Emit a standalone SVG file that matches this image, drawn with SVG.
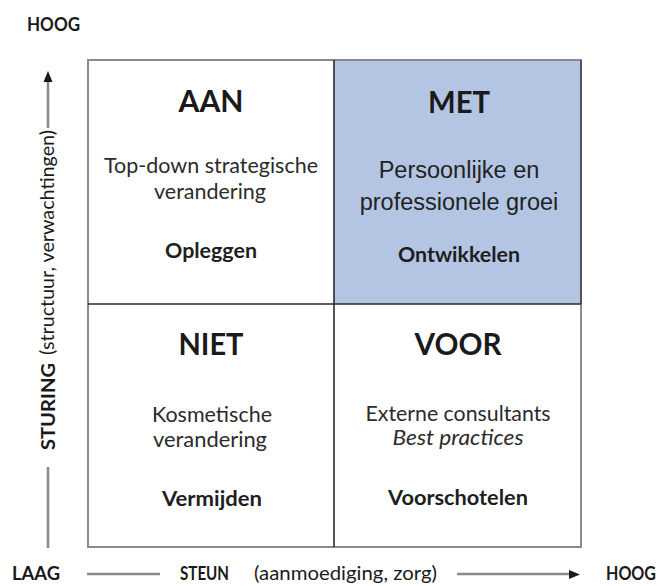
<svg xmlns="http://www.w3.org/2000/svg" width="665" height="586" viewBox="0 0 665 586">
  <style>
    .cal { font-family: Lato, "Liberation Sans", sans-serif; fill: #2b2b2b; text-anchor: middle; }
    .title { font-size: 30px; font-weight: bold; fill: #1a1a1a; }
    .body { font-size: 21px; }
    .verb { font-size: 21px; font-weight: bold; fill: #1e1e1e; }
    .ari { font-family: "Liberation Sans", Arial, sans-serif; font-size: 23.5px; fill: #222; text-anchor: middle; }
    .axis { font-family: Lato, "Liberation Sans", sans-serif; font-size: 19px; fill: #1a1a1a; }
    .axb { font-weight: bold; }
    .ln { stroke: #8c8c8c; stroke-width: 2.6; fill: none; }
    .head { fill: #1a1a1a; }
  </style>

  <rect width="665" height="586" fill="#ffffff"/>

  <!-- grid -->
  <g id="grid">
    <rect x="334" y="60" width="247" height="244" fill="#b4c5e4"/>
    <rect x="88" y="60" width="493" height="487" fill="none" stroke="#8a8a8a" stroke-width="2"/>
    <line x1="581" y1="60" x2="581" y2="304" stroke="#555" stroke-width="2"/>
    <line x1="334" y1="60" x2="334" y2="547" stroke="#2a2a2a" stroke-width="1.6"/>
    <line x1="88" y1="304" x2="581" y2="304" stroke="#2a2a2a" stroke-width="1.6"/>
  </g>

  <g id="aan">
    <text class="cal title" x="211" y="112" textLength="65" lengthAdjust="spacingAndGlyphs">AAN</text>
    <text class="cal body" x="211" y="173" textLength="214" lengthAdjust="spacingAndGlyphs">Top-down strategische</text>
    <text class="cal body" x="210" y="199" textLength="112" lengthAdjust="spacingAndGlyphs">verandering</text>
    <text class="cal verb" x="211" y="258" textLength="92" lengthAdjust="spacingAndGlyphs">Opleggen</text>
  </g>

  <g id="met">
    <text class="cal title" x="459" y="113" textLength="62" lengthAdjust="spacingAndGlyphs">MET</text>
    <text class="ari" x="459" y="178">Persoonlijke en</text>
    <text class="ari" x="459" y="210">professionele groei</text>
    <text class="cal verb" x="459" y="262" textLength="122" lengthAdjust="spacingAndGlyphs">Ontwikkelen</text>
  </g>

  <g id="niet">
    <text class="cal title" x="211" y="355" textLength="65" lengthAdjust="spacingAndGlyphs">NIET</text>
    <text class="cal body" x="212" y="422" textLength="120" lengthAdjust="spacingAndGlyphs">Kosmetische</text>
    <text class="cal body" x="210" y="447" textLength="114" lengthAdjust="spacingAndGlyphs">verandering</text>
    <text class="cal verb" x="212" y="506" textLength="100" lengthAdjust="spacingAndGlyphs">Vermijden</text>
  </g>

  <g id="voor">
    <text class="cal title" x="458" y="355" textLength="87" lengthAdjust="spacingAndGlyphs">VOOR</text>
    <text class="cal body" x="458" y="421" textLength="185" lengthAdjust="spacingAndGlyphs">Externe consultants</text>
    <text class="cal body" x="458" y="445" font-style="italic" textLength="131" lengthAdjust="spacingAndGlyphs">Best practices</text>
    <text class="cal verb" x="458" y="505" textLength="140" lengthAdjust="spacingAndGlyphs">Voorschotelen</text>
  </g>

  <!-- axis labels -->
  <g id="labels">
    <text class="axis axb" x="27" y="31" textLength="53" lengthAdjust="spacingAndGlyphs">HOOG</text>
    <text class="axis axb" x="12" y="580" textLength="48" lengthAdjust="spacingAndGlyphs">LAAG</text>
    <text class="axis axb" x="180" y="580" textLength="49" lengthAdjust="spacingAndGlyphs">STEUN</text>
    <text class="axis" x="254" y="580" textLength="183" lengthAdjust="spacingAndGlyphs">(aanmoediging, zorg)</text>
    <text class="axis axb" x="606" y="580" textLength="50" lengthAdjust="spacingAndGlyphs">HOOG</text>
    <text class="axis axb" transform="translate(55,406.5) rotate(-90)" text-anchor="middle" textLength="87" lengthAdjust="spacingAndGlyphs">STURING</text>
    <text class="axis" transform="translate(54,242.5) rotate(-90)" text-anchor="middle" textLength="225" lengthAdjust="spacingAndGlyphs">(structuur, verwachtingen)</text>
  </g>

  <!-- axes -->
  <g id="connectors">
    <line class="ln" x1="48" y1="548" x2="48" y2="467"/>
    <line class="ln" x1="48" y1="128" x2="48" y2="80"/>
    <polygon class="head" points="48,71 43.5,82 52.5,82"/>
    <line class="ln" x1="87" y1="574" x2="160" y2="574"/>
    <line class="ln" x1="457" y1="574" x2="571" y2="574"/>
    <polygon class="head" points="580,574.5 569,570 569,579"/>
  </g>
</svg>
